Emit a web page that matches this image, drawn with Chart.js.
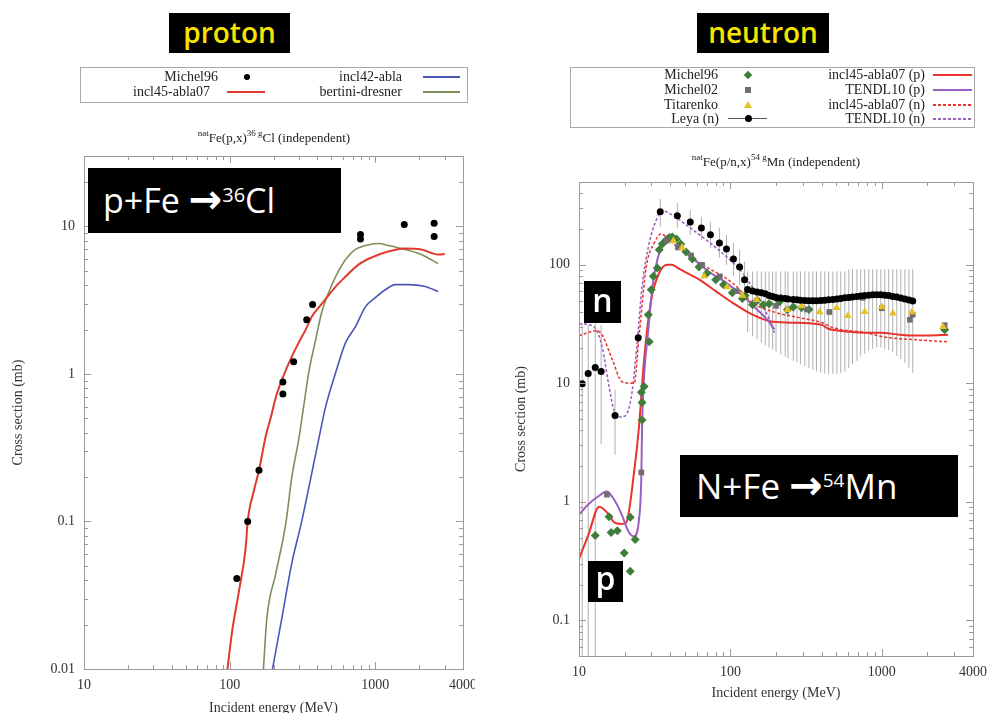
<!DOCTYPE html>
<html><head><meta charset="utf-8">
<script src="https://cdn.jsdelivr.net/npm/chart.js@4/dist/chart.umd.min.js"></script>
<style>
html,body{margin:0;padding:0;background:#fff;overflow:hidden}
#stage{position:relative;width:989px;height:713px;overflow:hidden;font-family:"Liberation Serif","Times New Roman",serif;color:#222}
canvas{position:absolute;top:0}
.tag{position:absolute;background:#000;font-family:"Open Sans",sans-serif;box-sizing:border-box;white-space:nowrap}
.lg{position:absolute;border:1px solid #a8a8a8;box-sizing:border-box;background:#fff}
.lt{position:absolute;width:200px;font-size:14px;line-height:14px;text-align:right;white-space:nowrap;color:#222}
.sub{position:absolute;font-size:13px;white-space:nowrap;transform:translate(-50%,-50%);color:#222}
.sub sup{font-size:9px}
.ln{position:absolute;height:2px}
.arr{font-family:"DejaVu Sans",sans-serif;font-weight:bold}
</style></head>
<body>
<div id="stage">
<canvas id="cL" width="475" height="720" style="left:0"></canvas>
<canvas id="cR" width="489" height="720" style="left:500px"></canvas>

<div class="tag" style="left:169px;top:13px;width:121px;height:40px;color:#f4e400;font-size:28px;font-weight:600;line-height:38px;text-align:center">proton</div>
<div class="tag" style="left:697px;top:13px;width:132px;height:40px;color:#f4e400;font-size:28px;font-weight:600;line-height:38px;text-align:center">neutron</div>

<!-- left legend -->
<div class="lg" style="left:80px;top:67px;width:388px;height:36px"></div>
<div class="lt" style="left:18px;top:70px">Michel96</div>
<div style="position:absolute;left:244px;top:74px;width:6px;height:6px;border-radius:50%;background:#000"></div>
<div class="lt" style="left:202px;top:70px">incl42-abla</div>
<div class="ln" style="left:423px;top:76px;width:37px;background:#4a56b8"></div>
<div class="lt" style="left:10px;top:85px">incl45-abla07</div>
<div class="ln" style="left:227px;top:91px;width:38px;background:#e03a2f"></div>
<div class="lt" style="left:202px;top:85px">bertini-dresner</div>
<div class="ln" style="left:423px;top:91px;width:37px;background:#7d8f5a"></div>
<div class="sub" style="left:274px;top:137px"><sup>nat</sup>Fe(p,x)<sup>36 g</sup>Cl (independent)</div>

<!-- right legend -->
<div class="lg" style="left:570px;top:67px;width:405px;height:61px"></div>
<div class="lt" style="left:518px;top:68px">Michel96</div>
<div style="position:absolute;left:745px;top:72px;width:6px;height:6px;background:#3f7d3a;transform:rotate(45deg)"></div>
<div class="lt" style="left:518px;top:83px">Michel02</div>
<div style="position:absolute;left:745px;top:87px;width:6px;height:6px;background:#6e6e6e"></div>
<div class="lt" style="left:518px;top:98px">Titarenko</div>
<div style="position:absolute;left:744px;top:101px;width:0;height:0;border-left:4px solid transparent;border-right:4px solid transparent;border-bottom:7px solid #e5c228"></div>
<div class="lt" style="left:519px;top:112px">Leya (n)</div>
<div style="position:absolute;left:728px;top:118px;width:39px;height:1px;background:#555"></div>
<div style="position:absolute;left:745px;top:115px;width:7px;height:7px;border-radius:50%;background:#000"></div>
<div class="lt" style="left:725px;top:68px">incl45-abla07 (p)</div>
<div class="ln" style="left:933px;top:74px;width:39px;background:#e8332c"></div>
<div class="lt" style="left:725px;top:83px">TENDL10 (p)</div>
<div class="ln" style="left:933px;top:89px;width:39px;background:#9a5fc0"></div>
<div class="lt" style="left:725px;top:98px">incl45-abla07 (n)</div>
<div class="ln" style="left:933px;top:104px;width:39px;background:repeating-linear-gradient(90deg,#e8332c 0 3px,transparent 3px 5px)"></div>
<div class="lt" style="left:725px;top:112px">TENDL10 (n)</div>
<div class="ln" style="left:933px;top:118px;width:39px;background:repeating-linear-gradient(90deg,#9a5fc0 0 3px,transparent 3px 5px)"></div>
<div class="sub" style="left:776px;top:161px"><sup>nat</sup>Fe(p/n,x)<sup>54 g</sup>Mn (independent)</div>

<div class="tag" style="left:88px;top:168px;width:253px;height:65px;color:#fff;font-size:34px;line-height:63px;padding-left:15px">p+Fe <span class="arr" style="font-size:40px">&#8594;</span><span style="font-size:20px;position:relative;top:-11px">36</span>Cl</div>
<div class="tag" style="left:680px;top:455px;width:278px;height:62px;color:#fff;font-size:35px;line-height:60px;padding-left:16px">N+Fe <span class="arr" style="font-size:40px">&#8594;</span><span style="font-size:19px;position:relative;top:-12px">54</span>Mn</div>
<div class="tag" style="left:584px;top:281px;width:37px;height:42px;color:#fff;font-size:32px;font-weight:600;line-height:38px;text-align:center">n</div>
<div class="tag" style="left:588px;top:561px;width:35px;height:41px;color:#fff;font-size:32px;font-weight:600;line-height:34px;text-align:center">p</div>
</div>

<script>
// ===== proton panel : natFe(p,x)36Cl =====
const pXTicks = [10, 100, 1000, 4000];
const pYTicks = [0.01, 0.1, 1, 10];
const pMichelE = [112, 133, 159, 232, 232, 275, 338, 371, 791, 791, 1581, 2535, 2535];
const pMichelS = [0.041, 0.1, 0.222, 0.88, 0.73, 1.21, 2.33, 2.95, 8.8, 8.2, 10.3, 10.5, 8.55];
const pInclE = [96, 104, 116, 129, 133, 147, 159, 177, 192, 207, 224, 243, 267, 298, 332, 366, 408, 464, 534, 625, 766, 940, 1227, 1605, 2067, 2700, 3000];
const pInclS = [0.0095, 0.018, 0.034, 0.067, 0.1, 0.163, 0.222, 0.38, 0.51, 0.69, 0.87, 1.06, 1.31, 1.63, 1.99, 2.44, 2.81, 3.29, 3.91, 4.57, 5.51, 6.15, 6.76, 7.08, 6.98, 6.45, 6.5];
const pIncl42E = [195, 228, 267, 313, 366, 421, 456, 534, 625, 731, 857, 1000, 1172, 1371, 1683, 2202, 2700];
const pIncl42S = [0.0095, 0.022, 0.052, 0.101, 0.212, 0.416, 0.60, 1.02, 1.63, 2.09, 2.86, 3.29, 3.72, 4.03, 4.03, 3.91, 3.61];
const pBertE = [170, 180, 207, 243, 267, 298, 322, 349, 389, 428, 478, 534, 625, 731, 857, 1050, 1230, 1605, 2067, 2700];
const pBertS = [0.0095, 0.022, 0.044, 0.097, 0.199, 0.36, 0.60, 1.02, 1.70, 2.60, 3.56, 4.57, 5.97, 6.98, 7.43, 7.66, 7.43, 6.98, 6.46, 5.60];

// ===== neutron panel : natFe(p/n,x)54Mn =====
const nXTicks = [10, 100, 1000, 4000];
const nYTicks = [0.1, 1, 10, 100];
const michel96E = [12.8, 15.8, 16.3, 17.9, 19.9, 21.8, 21.8, 23.5, 26.1, 26.1, 25.8, 26.9, 28.7, 29.1, 30, 31, 32.9, 33.9, 35.5, 37.7, 39.5, 41.3, 44, 47, 51, 56, 62, 70, 80, 90, 103, 120, 140, 165, 211, 238, 295, 125, 150, 180, 260, 330, 2600];
const michel96S = [0.52, 0.75, 0.55, 0.57, 0.37, 0.74, 0.26, 0.48, 4.9, 6.9, 8.4, 9.4, 37.9, 22.4, 61.5, 80, 94, 134, 150, 162, 170, 172, 165, 150, 128, 112, 96, 85, 75, 68, 58, 52, 46, 46, 48.8, 41.8, 43.5, 55, 50, 47, 44, 42, 28.3];
const michel02E = [15.3, 25.8, 38, 45, 55, 65, 85, 110, 150, 200, 320, 450, 748, 1000, 1532, 1600, 2600];
const michel02S = [1.15, 1.77, 160, 140, 120, 100, 80, 60, 50, 45, 42, 40, 52.7, 43, 34.4, 38, 31];
const titarE = [42, 48, 67, 95, 120, 149, 238, 295, 388, 503, 596, 771, 1000, 1183, 1580, 2535];
const titarS = [160, 140, 80, 65, 55, 50.7, 41.8, 45, 40, 43.5, 37.2, 40.2, 44, 39, 40, 30];
const leyaE = [10.5, 11.5, 12.8, 14.0, 17.3, 24.6, 34.4, 44.6, 54.3, 64.3, 73.8, 84.6, 94.2, 104.7, 115, 124,
  130, 140, 150, 160, 170, 180, 190, 200, 215, 230, 240, 260, 275, 290, 310, 330, 350, 370, 395, 420,
  445, 475, 505, 535, 570, 605, 640, 685, 725, 770, 820, 870, 925, 985, 1045, 1110, 1180, 1255, 1335, 1420, 1510, 1600];
const leyaS = [9.9, 12.1, 13.6, 12.6, 5.35, 24.3, 280, 259, 230, 205, 179, 153, 136, 112, 96, 74.8,
  62, 60, 59, 58, 57, 55, 54, 53, 52.5, 52, 51.5, 51, 50.7, 50.3, 50, 49.8, 49.8, 49.8, 50, 50.3,
  50.7, 51, 51.5, 52, 52.7, 53, 53.5, 54, 54.5, 55, 55.5, 55.9, 56, 55.9, 55.5, 55, 54, 53.5, 52.5, 51.5, 50.5, 49.5];
const leyaLo = [0.01, 0.01, 0.01, 3.05, 2.5, 21, 209, 205, 179, 162, 139, 115, 100, 81, 68, 51,
  27, 25, 23.5, 22, 21, 20, 19.3, 18.5, 17.5, 16.8, 16.3, 15.5, 15, 14.5, 14, 13.5, 13, 12.6, 12.3, 12.1,
  12, 12, 12, 12.2, 12.5, 13.5, 14.5, 15.5, 16.8, 17.8, 18.8, 19.5, 20, 20, 19.5, 19, 18.3, 17, 16, 14.8, 13.5, 12.3];
const leyaHi = [32, 31, 32, 31, 8.85, 28, 360, 333, 290, 254, 230, 205, 179, 153, 134, 106,
  88, 88, 88, 88, 88, 88, 88, 88, 88, 88, 88, 88, 88, 88, 88, 88, 88, 88, 88, 88,
  88, 88, 88, 88, 88, 92, 92, 92, 92, 92, 92, 92, 92, 92, 92, 92, 92, 92, 92, 92, 92, 92];
const inclPE = [10, 11.5, 13.6, 15.5, 17.1, 19, 20.5, 23.1, 24.9, 26.9, 30, 33.9, 38.3, 41, 45, 52, 62.4, 80, 103, 140, 190, 286, 406, 440, 474, 614, 795, 970, 1316, 1603, 2000, 2735];
const inclPS = [0.33, 0.52, 0.91, 0.8, 0.67, 0.65, 0.67, 1.77, 4.3, 15.8, 50.7, 85.6, 100, 100, 94, 85, 75, 60, 48, 38, 33.1, 32.4, 31, 29, 28.3, 27.2, 26.7, 26.7, 25.7, 25.3, 25.3, 25.7];
const tendlPE = [10, 11.5, 13.5, 15.3, 17, 19, 21.4, 23.1, 24.9, 25.8, 26.1, 26.9, 28.7, 30.4, 32.9, 36.6, 40.6, 45.9, 56, 72.6, 94, 120, 150, 180, 195];
const tendlPS = [0.78, 0.95, 1.12, 1.22, 1.05, 0.8, 0.55, 0.51, 0.71, 1.63, 4.3, 11.4, 28.3, 61.5, 110, 153, 162, 147, 115, 87, 70.5, 55, 42, 33, 28.5];
const inclNE = [10, 13, 14.2, 16.6, 19.3, 23.1, 24.9, 27.8, 31.4, 34.9, 41.3, 62.4, 103, 140, 202, 286, 406, 474, 795, 1015, 1706, 2735];
const inclNS = [25.2, 27.8, 25.7, 15.8, 10.3, 10, 24.7, 96, 153, 182, 153, 104, 70.5, 47.9, 39.4, 35.8, 32.4, 29.5, 26.7, 24.7, 23.3, 22.4];
const tendlNE = [10, 11.6, 13, 14.2, 15.8, 17.1, 19, 20.8, 22.4, 24.2, 26.1, 29.1, 32.4, 35.5, 41.3, 51.1, 69.3, 94.2, 120, 156, 181, 195];
const tendlNS = [31.8, 31.2, 28.3, 20.4, 9.4, 5.8, 5.2, 5.6, 8.4, 22, 65.3, 153, 239, 285, 264, 217, 162, 117, 85.6, 50.7, 34.4, 26.7];

// ---- helpers ----
const pts = (xs, ys) => xs.map((x, i) => ({x: x, y: ys[i]}));
const errPts = (xs, lo, hi) => {
  const out = [];
  xs.forEach((x, i) => { out.push({x: x, y: lo[i]}, {x: x, y: hi[i]}, {x: x, y: null}); });
  return out;
};
Chart.defaults.font.family = '"Liberation Serif","Times New Roman",serif';
Chart.defaults.color = '#333';

const framePlugin = {
  id: 'frame',
  afterDatasetsDraw(chart) {
    const {ctx, chartArea: a, scales} = chart;
    const xs = scales.x, ys = scales.y;
    ctx.save();
    ctx.strokeStyle = '#9a9a9a';
    ctx.lineWidth = 1;
    const vals = (mn, mx) => {
      const r = [];
      for (let d = Math.floor(Math.log10(mn)); d <= Math.ceil(Math.log10(mx)); d++)
        for (let m = 1; m <= 9; m++) { const v = m * Math.pow(10, d); if (v > mn * 1.0001 && v < mx * 0.9999) r.push([v, m === 1]); }
      return r;
    };
    ctx.beginPath();
    vals(xs.min, xs.max).forEach(([v, maj]) => {
      const px = Math.round(xs.getPixelForValue(v)) + 0.5, L = maj ? 7 : 4;
      ctx.moveTo(px, a.bottom); ctx.lineTo(px, a.bottom - L);
      ctx.moveTo(px, a.top); ctx.lineTo(px, a.top + L);
    });
    vals(ys.min, ys.max).forEach(([v, maj]) => {
      const py = Math.round(ys.getPixelForValue(v)) + 0.5, L = maj ? 7 : 4;
      ctx.moveTo(a.left, py); ctx.lineTo(a.left + L, py);
      ctx.moveTo(a.right, py); ctx.lineTo(a.right - L, py);
    });
    ctx.stroke();
    ctx.strokeRect(Math.round(a.left) + 0.5, Math.round(a.top) + 0.5, Math.round(a.right - a.left), Math.round(a.bottom - a.top));
    ctx.restore();
  }
};

function makeOptions(c) {
  return {
    responsive: false, animation: false, devicePixelRatio: 1,
    layout: {padding: {top: c.padTop, right: c.padRight, left: 0, bottom: 0}},
    plugins: {legend: {display: false}, tooltip: {enabled: false}},
    scales: {
      x: {
        type: 'logarithmic', min: c.xmin, max: c.xmax,
        afterBuildTicks: s => { s.ticks = c.xticks.map(v => ({value: v})); },
        afterFit: s => { s.height = c.xH; s.paddingLeft = 0; s.paddingRight = 0; },
        grid: {drawOnChartArea: false, drawTicks: false},
        border: {display: false},
        ticks: {padding: c.xTickPad, font: {size: 14}, color: '#333', maxRotation: 0, autoSkip: false, callback: v => String(v)},
        title: {display: true, text: 'Incident energy (MeV)', font: {size: 14}, color: '#333', padding: {top: 0, bottom: c.xTitlePad}}
      },
      y: {
        type: 'logarithmic', min: c.ymin, max: c.ymax,
        afterBuildTicks: s => { s.ticks = c.yticks.map(v => ({value: v})); },
        afterFit: s => { s.width = c.yW; s.paddingTop = 0; s.paddingBottom = 0; },
        grid: {drawOnChartArea: false, drawTicks: false},
        border: {display: false},
        ticks: {padding: 9, font: {size: 14}, color: '#333', autoSkip: false, callback: v => String(v)},
        title: {display: true, text: 'Cross section (mb)', font: {size: 14}, color: '#333', padding: {top: c.yTitlePad, bottom: 0}}
      }
    }
  };
}
const lineDs = (label, xs, ys, color, w, dash, order) => ({
  label, data: pts(xs, ys), showLine: true, borderColor: color, borderWidth: w,
  borderDash: dash || [], pointRadius: 0, cubicInterpolationMode: 'monotone', fill: false, order: order
});
const markDs = (label, xs, ys, color, style, r, order) => ({
  label, data: pts(xs, ys), showLine: false, pointStyle: style, pointRadius: r,
  backgroundColor: color, borderColor: color, borderWidth: 0, order: order
});

new Chart(document.getElementById('cL'), {
  type: 'scatter',
  data: {datasets: [
    markDs('Michel96', pMichelE, pMichelS, '#000', 'circle', 3.5, 1),
    lineDs('incl45-abla07', pInclE, pInclS, '#e03a2f', 2, null, 3),
    lineDs('incl42-abla', pIncl42E, pIncl42S, '#4a56b8', 1.6, null, 4),
    lineDs('bertini-dresner', pBertE, pBertS, '#7d8f5a', 1.6, null, 5)
  ]},
  options: makeOptions({padTop: 156, padRight: 12, xmin: 10, xmax: 4000, ymin: 0.01, ymax: 30,
    xticks: pXTicks, yticks: pYTicks, xH: 51, yW: 84, xTickPad: 8, xTitlePad: 3.5, yTitlePad: 9.6}),
  plugins: [framePlugin]
});

new Chart(document.getElementById('cR'), {
  type: 'scatter',
  data: {datasets: [
    markDs('Leya (n)', leyaE, leyaS, '#000', 'circle', 3.5, 1),
    markDs('Titarenko', titarE, titarS, '#e5c228', 'triangle', 4.5, 2),
    markDs('Michel02', michel02E, michel02S, '#6e6e6e', 'rect', 4, 3),
    markDs('Michel96', michel96E, michel96S, '#3f7d3a', 'rectRot', 4.5, 4),
    lineDs('incl45-abla07 (p)', inclPE, inclPS, '#e8332c', 2, null, 6),
    lineDs('TENDL10 (p)', tendlPE, tendlPS, '#9a5fc0', 2, null, 5),
    lineDs('incl45-abla07 (n)', inclNE, inclNS, '#e8332c', 1.5, [3, 2], 7),
    lineDs('TENDL10 (n)', tendlNE, tendlNS, '#9a5fc0', 1.5, [3, 2], 8),
    {label: 'Leya (n) errors', data: errPts(leyaE, leyaLo, leyaHi), showLine: true, spanGaps: false,
      borderColor: '#b0b0b0', borderWidth: 1, pointRadius: 0, tension: 0, order: 10}
  ]},
  options: makeOptions({padTop: 182, padRight: 16, xmin: 10, xmax: 4000, ymin: 0.05, ymax: 500,
    xticks: nXTicks, yticks: nYTicks, xH: 64, yW: 79, xTickPad: 8, xTitlePad: 18, yTitlePad: 12.6}),
  plugins: [framePlugin]
});
</script>
</body></html>
